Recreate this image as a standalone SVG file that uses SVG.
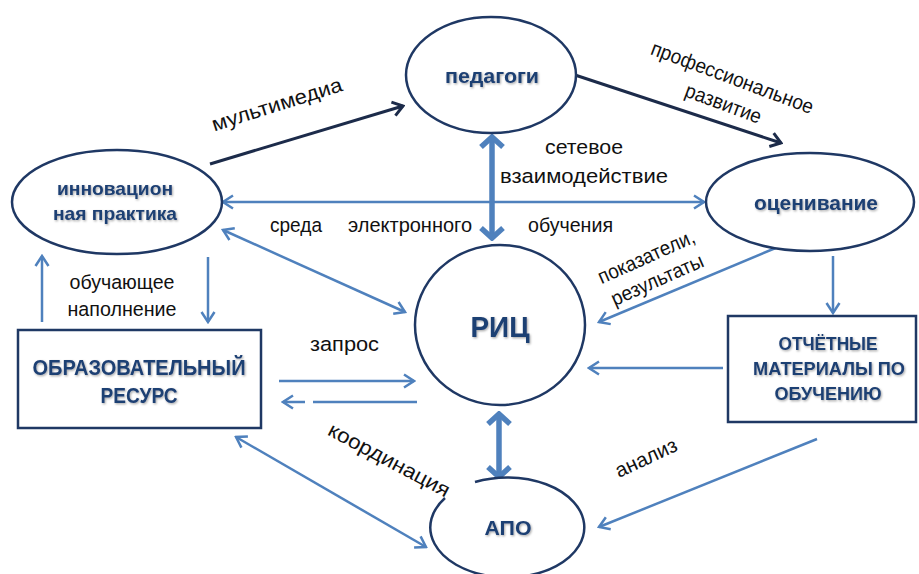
<svg xmlns="http://www.w3.org/2000/svg" width="919" height="574" viewBox="0 0 919 574">
<style>
.node{fill:#fff;stroke:#1F3864;stroke-width:2.5}
.nt{font-family:"Liberation Sans",Arial,sans-serif;font-weight:bold;fill:#1F3F73;text-anchor:middle;filter:url(#sh)}
.lbl{font-family:"Liberation Sans",Arial,sans-serif;font-size:20.5px;fill:#111}
.blue{stroke:#4F81BD;stroke-width:2.5;fill:none}
.thick{stroke:#4F81BD;stroke-width:5.5;fill:none}
.dark{stroke:#1C2B4A;stroke-width:3;fill:none}
</style>
<defs>
<filter id="sh" x="-10%" y="-30%" width="130%" height="160%">
<feDropShadow dx="1" dy="1.2" stdDeviation="0.8" flood-color="#000" flood-opacity="0.35"/>
</filter>
<marker id="ab" viewBox="-12 -8 14 16" refX="0" refY="0" markerWidth="14" markerHeight="16" markerUnits="userSpaceOnUse" orient="auto-start-reverse">
<path d="M-10,-6.5 L0,0 L-10,6.5" fill="none" stroke="#4F81BD" stroke-width="2.5" stroke-linejoin="miter"/>
</marker>
<marker id="at" viewBox="-16 -14 18 28" refX="0" refY="0" markerWidth="18" markerHeight="28" markerUnits="userSpaceOnUse" orient="auto-start-reverse">
<path d="M-11,-11 L-1,0 L-11,11" fill="none" stroke="#4F81BD" stroke-width="5.5" stroke-linejoin="miter"/>
</marker>
<marker id="ad" viewBox="-13 -9 15 18" refX="0" refY="0" markerWidth="15" markerHeight="18" markerUnits="userSpaceOnUse" orient="auto">
<path d="M-10,-7 L0,0 L-10,7" fill="none" stroke="#1C2B4A" stroke-width="3"/>
</marker>
</defs>
<rect width="919" height="574" fill="#fff"/>

<g id="connectors">
<line class="dark" x1="210" y1="164" x2="403" y2="106" marker-end="url(#ad)"/>
<line class="dark" x1="575" y1="75" x2="781" y2="143" marker-end="url(#ad)"/>
<line class="blue" x1="223" y1="202" x2="704" y2="202" marker-start="url(#ab)" marker-end="url(#ab)"/>
<line class="thick" x1="492" y1="136" x2="492" y2="239" marker-start="url(#at)" marker-end="url(#at)"/>
<line class="blue" x1="223" y1="230" x2="405" y2="312" marker-start="url(#ab)" marker-end="url(#ab)"/>
<line class="blue" x1="42" y1="322" x2="42" y2="256" marker-end="url(#ab)"/>
<line class="blue" x1="208" y1="257" x2="208" y2="322" marker-end="url(#ab)"/>
<line class="blue" x1="279" y1="381" x2="414" y2="381" marker-end="url(#ab)"/>
<line class="blue" x1="417" y1="402" x2="313" y2="402"/>
<line class="blue" x1="305" y1="402" x2="283" y2="402" marker-end="url(#ab)"/>
<line class="blue" x1="236" y1="437" x2="426" y2="547" marker-start="url(#ab)" marker-end="url(#ab)"/>
<line class="thick" x1="499" y1="413" x2="499" y2="478" marker-start="url(#at)" marker-end="url(#at)"/>
<line class="blue" x1="778" y1="247" x2="599" y2="322" marker-end="url(#ab)"/>
<line class="blue" x1="833" y1="256" x2="833" y2="313" marker-end="url(#ab)"/>
<line class="blue" x1="723" y1="368" x2="589" y2="368" marker-end="url(#ab)"/>
<line class="blue" x1="817" y1="439" x2="599" y2="527" marker-end="url(#ab)"/>
</g>

<g id="pedagogi">
<ellipse class="node" cx="491" cy="75" rx="85" ry="58"/>
<text class="nt" x="492" y="83" font-size="20" textLength="94" lengthAdjust="spacingAndGlyphs">педагоги</text>
</g>
<g id="innovacionnaya">
<ellipse class="node" cx="117" cy="202" rx="105" ry="52"/>
<text class="nt" x="115" y="195" font-size="19" textLength="116" lengthAdjust="spacingAndGlyphs">инновацион</text>
<text class="nt" x="115" y="220" font-size="19" textLength="124" lengthAdjust="spacingAndGlyphs">ная практика</text>
</g>
<g id="ocenivanie">
<ellipse class="node" cx="810" cy="202" rx="104" ry="49"/>
<text class="nt" x="816" y="210" font-size="20" textLength="124" lengthAdjust="spacingAndGlyphs">оценивание</text>
</g>
<g id="ric">
<ellipse class="node" cx="500" cy="325" rx="85" ry="80"/>
<text class="nt" x="500" y="337" font-size="29" textLength="59" lengthAdjust="spacingAndGlyphs">РИЦ</text>
</g>
<g id="apo">
<path class="node" d="M475,482 A77,50 0 1 1 445,498"/>
<text class="nt" x="508" y="535" font-size="21" textLength="47" lengthAdjust="spacingAndGlyphs">АПО</text>
</g>
<g id="obrazovatelnyi">
<rect class="node" x="18" y="330" width="243" height="98"/>
<text class="nt" x="139" y="375" font-size="22" textLength="213" lengthAdjust="spacingAndGlyphs">ОБРАЗОВАТЕЛЬНЫЙ</text>
<text class="nt" x="139" y="403" font-size="22" textLength="77" lengthAdjust="spacingAndGlyphs">РЕСУРС</text>
</g>
<g id="otchetnye">
<rect class="node" x="728" y="316" width="188" height="106"/>
<text class="nt" x="828" y="350" font-size="19" textLength="99" lengthAdjust="spacingAndGlyphs">ОТЧЁТНЫЕ</text>
<text class="nt" x="829" y="375" font-size="19" textLength="152" lengthAdjust="spacingAndGlyphs">МАТЕРИАЛЫ ПО</text>
<text class="nt" x="828" y="400" font-size="19" textLength="107" lengthAdjust="spacingAndGlyphs">ОБУЧЕНИЮ</text>
</g>

<g id="labels">
<text class="lbl" x="279" y="111" text-anchor="middle" transform="rotate(-17.5 279 111)" textLength="136" lengthAdjust="spacingAndGlyphs">мультимедиа</text>
<text class="lbl" x="730" y="84" text-anchor="middle" transform="rotate(20.5 730 84)" textLength="172" lengthAdjust="spacingAndGlyphs">профессиональное</text>
<text class="lbl" x="721" y="110" text-anchor="middle" transform="rotate(20.5 721 110)" textLength="80" lengthAdjust="spacingAndGlyphs">развитие</text>
<text class="lbl" x="584" y="154" text-anchor="middle" textLength="78" lengthAdjust="spacingAndGlyphs">сетевое</text>
<text class="lbl" x="584" y="183" text-anchor="middle" textLength="168" lengthAdjust="spacingAndGlyphs">взаимодействие</text>
<text class="lbl" x="270" y="232" textLength="52" lengthAdjust="spacingAndGlyphs">среда</text>
<text class="lbl" x="348" y="232" textLength="124" lengthAdjust="spacingAndGlyphs">электронного</text>
<text class="lbl" x="528" y="232" textLength="85" lengthAdjust="spacingAndGlyphs">обучения</text>
<text class="lbl" x="122" y="289" text-anchor="middle" textLength="105" lengthAdjust="spacingAndGlyphs">обучающее</text>
<text class="lbl" x="122" y="316" text-anchor="middle" textLength="109" lengthAdjust="spacingAndGlyphs">наполнение</text>
<text class="lbl" x="310" y="351" textLength="69" lengthAdjust="spacingAndGlyphs">запрос</text>
<text class="lbl" x="386" y="466" text-anchor="middle" transform="rotate(28 386 466)" textLength="135" lengthAdjust="spacingAndGlyphs">координация</text>
<text class="lbl" x="649" y="464" text-anchor="middle" transform="rotate(-25 649 464)" textLength="66" lengthAdjust="spacingAndGlyphs">анализ</text>
<text class="lbl" x="649" y="263" text-anchor="middle" transform="rotate(-24 649 263)" textLength="104" lengthAdjust="spacingAndGlyphs">показатели,</text>
<text class="lbl" x="660" y="286" text-anchor="middle" transform="rotate(-24 660 286)" textLength="99" lengthAdjust="spacingAndGlyphs">результаты</text>
</g>
</svg>
